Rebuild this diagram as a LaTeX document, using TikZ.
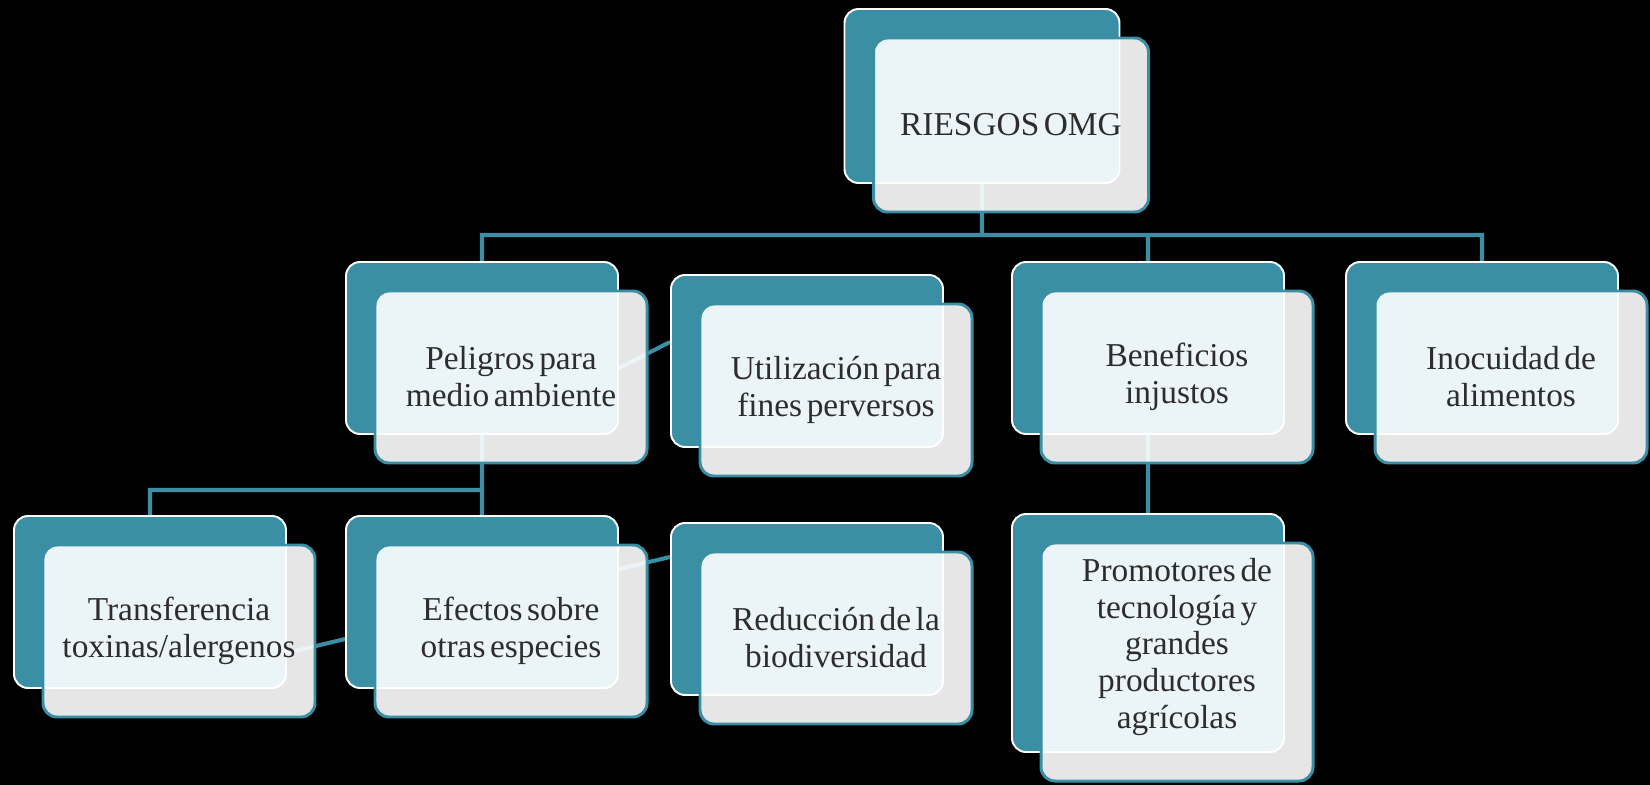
\documentclass[tikz,border=0pt]{standalone}
\usepackage{fontspec}
\setmainfont{Liberation Serif}[WordSpace=0.55]
\usetikzlibrary{positioning}
\usetikzlibrary{calc}

\definecolor{omgteal}{RGB}{58,143,165}
\definecolor{omgtext}{RGB}{45,45,45}

\pgfdeclarelayer{bg}
\pgfdeclarelayer{wires}
\pgfsetlayers{bg,wires,main}

\tikzset{
  boxtext/.style={align=center, text=omgtext, font=\fontsize{19}{21}\selectfont},
  backbox/.style={draw=white, line width=1.1pt, fill=omgteal, rounded corners=2.8mm,
    minimum width=54.4mm, minimum height=34.4mm, inner sep=0pt},
  frontbox/.style={boxtext, draw=omgteal, line width=1.7pt, fill=white, fill opacity=0.9,
    text opacity=1, rounded corners=2.8mm, minimum width=54.4mm, minimum height=34.4mm, inner sep=0pt},
  link/.style={draw=omgteal, line width=2.3pt},
}

\begin{document}
\begin{tikzpicture}[x=0.2mm, y=-0.2mm]
\begin{pgfonlayer}{bg}
\fill[black] (0,0) rectangle (1650,785);
\end{pgfonlayer}
\useasboundingbox (0,0) rectangle (1650,785);

% back boxes
\node[backbox, minimum width=55mm, minimum height=34.8mm] (riesB) at (982,96){};
\node[backbox] (pelB) at (482,348){};
\node[backbox] (utiB) at (807,361){};
\node[backbox] (benB) at (1148,348){};
\node[backbox] (inoB) at (1482,348){};
\node[backbox] (traB) at (150,602){};
\node[backbox] (efeB) at (482,602){};
\node[backbox] (redB) at (807,609){};
\node[backbox, minimum height=47.6mm] (proB) at (1148,633){};

% front boxes
\node[frontbox, minimum width=55mm, minimum height=34.8mm] (riesF) at (1011,125){RIESGOS OMG};
\node[frontbox] (pelF) at (511,377){Peligros para\\medio ambiente};
\node[frontbox] (utiF) at (836,390){Utilización para\\fines perversos};
\node[frontbox] (benF) at (1177,377){Beneficios\\injustos};
\node[frontbox] (inoF) at (1511,377){Inocuidad de\\alimentos};
\node[frontbox] (traF) at (179,631){Transferencia\\toxinas/alergenos};
\node[frontbox] (efeF) at (511,631){Efectos sobre\\otras especies};
\node[frontbox] (redF) at (836,638){Reducción de la\\biodiversidad};
\node[frontbox, minimum height=47.6mm] (proF) at (1177,662){};
\node[boxtext] (proT) at ($(proF)+(0,-15)$){Promotores de\\tecnología y\\grandes\\productores\\agrícolas};

% connectors under the boxes
\begin{pgfonlayer}{wires}
\coordinate (hubA) at (982,235);
\coordinate (hubB) at (482,490);
\path[link]
(riesB) -- (hubA)
(hubA) -| (pelB)
(hubA) -| (benB)
(hubA) -| (inoB)
(pelB) -- (efeB)
(hubB) -| (traB)
(benB) -- (proB)
($(pelB.east)+(0,20)$) -- ($(utiB.west)+(0,-19)$)
($(traB.east)+(0,51)$) -- ($(efeB.west)+(0,37)$)
($(efeB.east)+(0,-33)$) -- ($(redB.west)+(0,-52)$);
\end{pgfonlayer}
\end{tikzpicture}
\end{document}
